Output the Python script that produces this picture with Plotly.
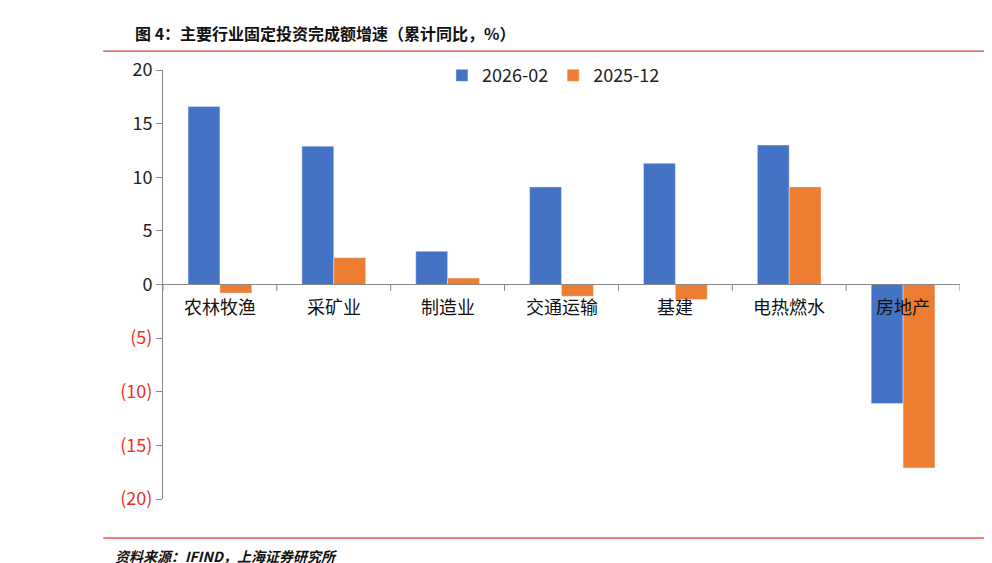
import plotly.graph_objects as go

categories = ["农林牧渔", "采矿业", "制造业", "交通运输", "基建", "电热燃水", "房地产"]
s2026_02 = [16.6, 12.9, 3.1, 9.1, 11.3, 13.0, -11.1]
s2025_12 = [-0.8, 2.5, 0.6, -1.1, -1.4, 9.1, -17.1]
ytick_vals = [20, 15, 10, 5, 0, -5, -10, -15, -20]
ytick_text = ["20", "15", "10", "5", "0", "<span style='color:#e8302a'>(5)</span>",
              "<span style='color:#e8302a'>(10)</span>", "<span style='color:#e8302a'>(15)</span>",
              "<span style='color:#e8302a'>(20)</span>"]

x = list(range(len(categories)))
fig = go.Figure()
fig.add_bar(x=x, y=s2026_02, name="2026-02", marker_color="#4472c4")
fig.add_bar(x=x, y=s2025_12, name="2025-12", marker_color="#ed7d31")

font = "Noto Sans CJK SC, Liberation Sans, Arial"
fig.update_layout(
    width=992, height=563, paper_bgcolor="white", plot_bgcolor="white",
    margin=dict(l=155, r=40, t=62, b=72),
    barmode="group", bargap=0.44, bargroupgap=0,
    font=dict(family=font, size=17, color="#222"),
    showlegend=True,
    legend=dict(orientation="h", x=0.35, y=1.03, yanchor="top", xanchor="left",
                font=dict(size=18), itemwidth=30, traceorder="normal"),
    xaxis=dict(range=[-0.5, 6.5], showticklabels=False, showgrid=False, zeroline=False),
    yaxis=dict(range=[-20, 20], tickvals=ytick_vals, ticktext=ytick_text, showgrid=False,
               zeroline=False, showline=True, linecolor="#888", ticks="outside",
               ticklen=6, tickcolor="#888", tickfont=dict(size=18)),
)
fig.add_shape(type="line", xref="x", yref="y", x0=-0.5, x1=6.5, y0=0, y1=0,
              line=dict(color="#888", width=1))
for i in range(len(categories) + 1):
    fig.add_shape(type="line", xref="x", yref="y", x0=i - 0.5, x1=i - 0.5, y0=0, y1=-0.6,
                  line=dict(color="#888", width=1))
for i, c in enumerate(categories):
    fig.add_annotation(x=i, y=0, xref="x", yref="y", text=c, showarrow=False,
                       yanchor="top", yshift=-6, font=dict(size=18, color="#111"))
fig.add_annotation(xref="paper", yref="paper", x=-0.038, y=1.086, xanchor="left", yanchor="middle",
                   text="<b>图 4：主要行业固定投资完成额增速（累计同比，%）</b>", showarrow=False,
                   font=dict(size=16, color="#111"))
fig.add_annotation(xref="paper", yref="paper", x=-0.063, y=-0.133, xanchor="left", yanchor="middle",
                   text="<b><i>资料来源：IFIND，上海证券研究所</i></b>", showarrow=False,
                   font=dict(size=14, color="#111"))
fig.add_shape(type="line", xref="paper", yref="paper", x0=-0.075, x1=1.044, y0=1.044, y1=1.044,
              line=dict(color="#e00000", width=1))
fig.add_shape(type="line", xref="paper", yref="paper", x0=-0.075, x1=1.044, y0=-0.091, y1=-0.091,
              line=dict(color="#e00000", width=1))
fig.write_html("out.html")
